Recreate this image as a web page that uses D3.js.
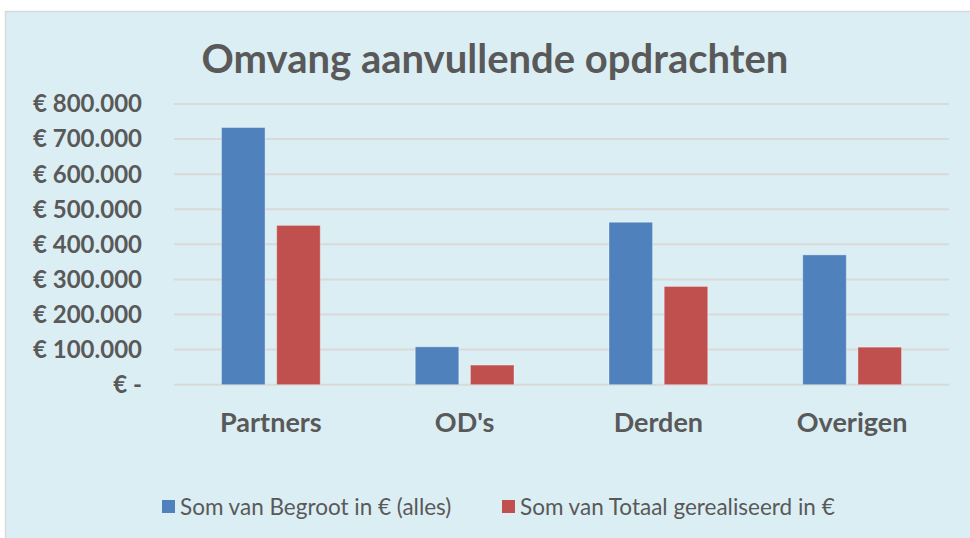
<!DOCTYPE html>
<html>
<head>
<meta charset="utf-8">
<script src="https://cdn.jsdelivr.net/npm/d3@7"></script>
<style>
  body { margin: 0; background: #fff; }
  svg { display: block; }
</style>
</head>
<body>
<svg id="chart" width="970" height="538"></svg>
<script>
const categories = ["Partners", "OD's", "Derden", "Overigen"];
const seriesNames = ["Som van Begroot in € (alles)", "Som van Totaal gerealiseerd in €"];
const begroot = [733000, 108000, 463000, 370000];
const gerealiseerd = [454000, 56000, 280000, 107000];
const yTicks = [0, 100000, 200000, 300000, 400000, 500000, 600000, 700000, 800000];
const colors = ["#4F81BD", "#C0504D"];

const W = 970, H = 538;
const plot = { left: 174, right: 949, top: 104, bottom: 384.7 };
const textColor = "#595959";
const font = "Lato, 'Open Sans', sans-serif";

const svg = d3.select("#chart");

// chart area with border
svg.append("rect")
  .attr("x", 5.5).attr("y", 11.5)
  .attr("width", W + 10).attr("height", H + 10)
  .attr("fill", "#DBEEF4")
  .attr("stroke", "#D9D9D9")
  .attr("stroke-width", 1.5);

svg.append("text")
  .attr("x", 495).attr("y", 73)
  .attr("text-anchor", "middle")
  .attr("font-family", font)
  .attr("font-weight", "bold")
  .attr("font-size", 40)
  .attr("fill", textColor)
  .text("Omvang aanvullende opdrachten");

const y = d3.scaleLinear().domain([0, 800000]).range([plot.bottom, plot.top]);
const x0 = d3.scaleBand().domain(categories).range([plot.left, plot.right]).padding(0);
const x1 = d3.scaleBand().domain([0, 1])
  .range([47.5, x0.bandwidth() - 47.5])
  .paddingInner(0.211).paddingOuter(0);

const fmt = d3.formatLocale({ decimal: ",", thousands: ".", grouping: [3], currency: ["€ ", ""] }).format(",");

// gridlines
svg.append("g").selectAll("line").data(yTicks)
  .join("line")
  .attr("x1", plot.left).attr("x2", plot.right)
  .attr("y1", d => y(d)).attr("y2", d => y(d))
  .attr("stroke", "#D9D9D9")
  .attr("stroke-width", 2);

// y labels
svg.append("g").selectAll("text").data(yTicks)
  .join("text")
  .attr("x", 142)
  .attr("y", d => y(d))
  .attr("dy", "0.35em")
  .attr("text-anchor", "end")
  .attr("font-family", font)
  .attr("font-weight", "bold")
  .attr("font-size", 24)
  .attr("fill", textColor)
  .text(d => d === 0 ? "€ -" : "€ " + fmt(d));

// bars
const rows = categories.map((c, i) => ({ cat: c, values: [begroot[i], gerealiseerd[i]] }));
const groups = svg.append("g").selectAll("g").data(rows)
  .join("g")
  .attr("transform", d => `translate(${x0(d.cat)},0)`);

groups.selectAll("rect").data(d => d.values.map((v, s) => ({ v, s })))
  .join("rect")
  .attr("x", d => x1(d.s))
  .attr("width", x1.bandwidth())
  .attr("y", d => y(d.v))
  .attr("height", d => y(0) - y(d.v))
  .attr("fill", d => colors[d.s])
  .attr("stroke", "rgba(255,255,255,0.35)")
  .attr("stroke-width", 1);

// x labels
svg.append("g").selectAll("text").data(categories)
  .join("text")
  .attr("x", d => x0(d) + x0.bandwidth() / 2)
  .attr("y", 432)
  .attr("text-anchor", "middle")
  .attr("font-family", font)
  .attr("font-weight", "bold")
  .attr("font-size", 27)
  .attr("fill", textColor)
  .text(d => d);

// legend
const legendX = [162, 502];
const legend = svg.append("g").selectAll("g").data(seriesNames)
  .join("g")
  .attr("transform", (d, i) => `translate(${legendX[i]},500)`);
legend.append("rect")
  .attr("width", 13).attr("height", 13)
  .attr("fill", (d, i) => colors[i]);
legend.append("text")
  .attr("x", 18).attr("y", 7)
  .attr("dy", "0.35em")
  .attr("font-family", font)
  .attr("font-size", 22.5)
  .attr("fill", textColor)
  .text(d => d);
</script>
</body>
</html>
